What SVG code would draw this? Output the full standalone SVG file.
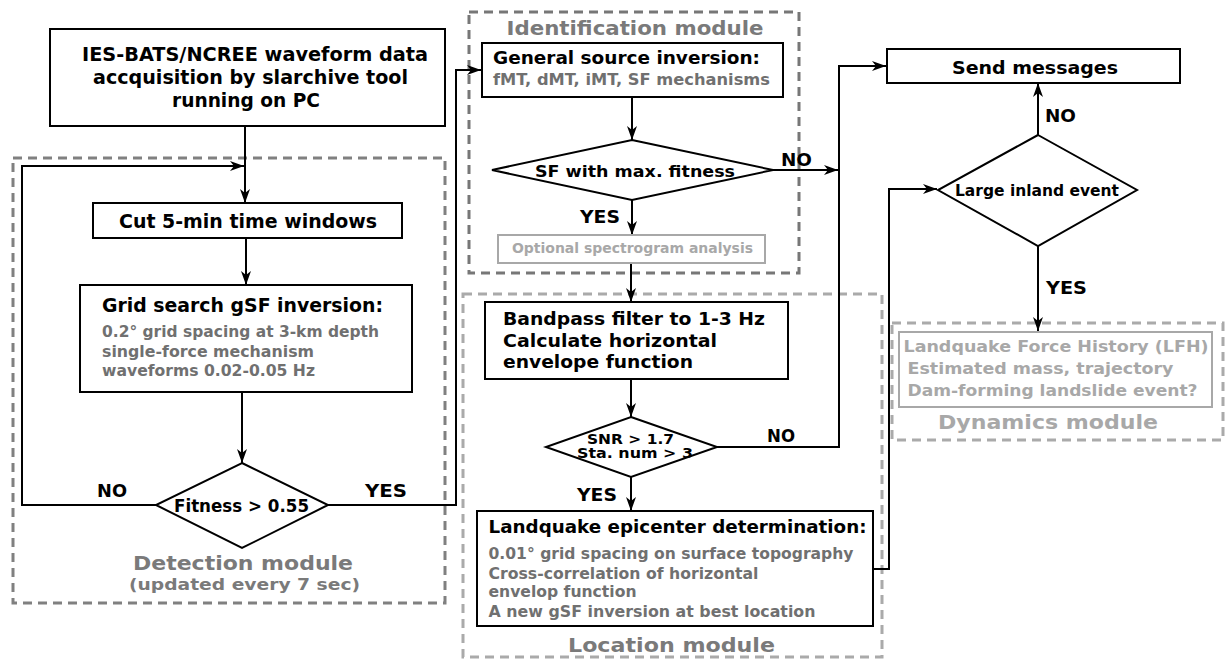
<svg xmlns="http://www.w3.org/2000/svg" width="1227" height="659" viewBox="0 0 1227 659">
<style>
text{font-family:"DejaVu Sans","Liberation Sans",sans-serif;font-weight:bold;}
.b{fill:#000;}
.g{fill:#707070;}
.lg{fill:#a8a8a8;}
.m{fill:#7a7a7a;}
.box{fill:#fff;stroke:#000;stroke-width:2;}
.lbox{fill:#fff;stroke:#a8a8a8;stroke-width:2;}
.dia{fill:#fff;stroke:#000;stroke-width:2;}
.dash{fill:none;stroke-width:3;stroke-dasharray:9 6;}
.c{fill:none;stroke:#000;stroke-width:2;}
</style>
<defs>
<marker id="ah" markerUnits="userSpaceOnUse" markerWidth="14" markerHeight="10" refX="14" refY="5" orient="auto">
<path d="M0,0 L14,5 L0,10 L4,5 Z" fill="#000"/>
</marker>
</defs>

<g id="modules">
<rect id="detection-module" class="dash" x="13" y="158" width="432" height="445" stroke="#808080"/>
<rect id="identification-module" class="dash" x="469" y="12" width="330" height="261" stroke="#777"/>
<rect id="location-module" class="dash" x="463" y="294" width="419" height="363" stroke="#aaa"/>
<rect id="dynamics-module" class="dash" x="892" y="323" width="331" height="117" stroke="#aaa"/>
<text class="m" x="243" y="570" font-size="19" text-anchor="middle" textLength="220" lengthAdjust="spacingAndGlyphs">Detection module</text>
<text class="m" x="244.5" y="590" font-size="16" text-anchor="middle" textLength="231" lengthAdjust="spacingAndGlyphs">(updated every 7 sec)</text>
<text class="m" x="635" y="35" font-size="19" text-anchor="middle" textLength="257" lengthAdjust="spacingAndGlyphs">Identification module</text>
<text class="m" x="671.5" y="652" font-size="20" text-anchor="middle" textLength="207" lengthAdjust="spacingAndGlyphs">Location module</text>
<text class="lg" x="1048" y="429" font-size="20" text-anchor="middle" textLength="220" lengthAdjust="spacingAndGlyphs">Dynamics module</text>
</g>

<g id="connectors">
<path class="c" d="M245,126 V203" marker-end="url(#ah)"/>
<path class="c" d="M156,505 H22 V166 H244" marker-end="url(#ah)"/>
<path class="c" d="M246,238 V285" marker-end="url(#ah)"/>
<path class="c" d="M242,392 V463" marker-end="url(#ah)"/>
<path class="c" d="M328,505 H456 V70 H481" marker-end="url(#ah)"/>
<path class="c" d="M632,97 V140" marker-end="url(#ah)"/>
<path class="c" d="M773,170 H838" marker-end="url(#ah)"/>
<path class="c" d="M632,200 V235" marker-end="url(#ah)"/>
<path class="c" d="M631,263 V302" marker-end="url(#ah)"/>
<path class="c" d="M631,379 V417" marker-end="url(#ah)"/>
<path class="c" d="M717,447 H839 V66 H886" marker-end="url(#ah)"/>
<path class="c" d="M631,477 V511" marker-end="url(#ah)"/>
<path class="c" d="M873,569 H889 V189 H937" marker-end="url(#ah)"/>
<path class="c" d="M1038,135 V83" marker-end="url(#ah)"/>
<path class="c" d="M1038,246 V331" marker-end="url(#ah)"/>
<text class="b" x="97" y="497" font-size="18" textLength="30" lengthAdjust="spacingAndGlyphs">NO</text>
<text class="b" x="365" y="497" font-size="18" textLength="42" lengthAdjust="spacingAndGlyphs">YES</text>
<text class="b" x="781" y="166" font-size="18" textLength="31" lengthAdjust="spacingAndGlyphs">NO</text>
<text class="b" x="580" y="223" font-size="18" textLength="40" lengthAdjust="spacingAndGlyphs">YES</text>
<text class="b" x="767" y="442" font-size="18" textLength="28" lengthAdjust="spacingAndGlyphs">NO</text>
<text class="b" x="577" y="501" font-size="18" textLength="40" lengthAdjust="spacingAndGlyphs">YES</text>
<text class="b" x="1045" y="122" font-size="18" textLength="31" lengthAdjust="spacingAndGlyphs">NO</text>
<text class="b" x="1046" y="294" font-size="18" textLength="41" lengthAdjust="spacingAndGlyphs">YES</text>
</g>

<g id="acquisition">
<rect class="box" x="50" y="29" width="395" height="97"/>
<text class="b" x="82" y="61" font-size="19" textLength="346" lengthAdjust="spacingAndGlyphs">IES-BATS/NCREE waveform data</text>
<text class="b" x="93" y="83.5" font-size="19" textLength="315" lengthAdjust="spacingAndGlyphs">accquisition by slarchive tool</text>
<text class="b" x="172" y="107" font-size="19" textLength="148" lengthAdjust="spacingAndGlyphs">running on PC</text>
</g>

<g id="cut-windows">
<rect class="box" x="93" y="203" width="309" height="35"/>
<text class="b" x="119" y="228" font-size="19" textLength="258" lengthAdjust="spacingAndGlyphs">Cut 5-min time windows</text>
</g>

<g id="grid-search">
<rect class="box" x="80" y="285" width="332" height="107"/>
<text class="b" x="102" y="311.5" font-size="19" textLength="281" lengthAdjust="spacingAndGlyphs">Grid search gSF inversion:</text>
<text class="g" x="102" y="337" font-size="15" textLength="277" lengthAdjust="spacingAndGlyphs">0.2° grid spacing at 3-km depth</text>
<text class="g" x="102" y="357" font-size="15" textLength="212" lengthAdjust="spacingAndGlyphs">single-force mechanism</text>
<text class="g" x="102" y="376" font-size="15" textLength="213" lengthAdjust="spacingAndGlyphs">waveforms 0.02-0.05 Hz</text>
</g>

<g id="fitness">
<polygon class="dia" points="242,463 328,505 242,548 156,505"/>
<text class="b" x="174" y="511.5" font-size="17" textLength="135" lengthAdjust="spacingAndGlyphs">Fitness &gt; 0.55</text>
</g>

<g id="general-source">
<rect class="box" x="482" y="43" width="301" height="54"/>
<text class="b" x="493" y="63.5" font-size="17.5" textLength="267" lengthAdjust="spacingAndGlyphs">General source inversion:</text>
<text class="g" x="493" y="85" font-size="15" textLength="277" lengthAdjust="spacingAndGlyphs">fMT, dMT, iMT, SF mechanisms</text>
</g>

<g id="sf-fitness">
<polygon class="dia" points="632,140 773,170 632,200 492,170"/>
<text class="b" x="535" y="176.5" font-size="16" textLength="200" lengthAdjust="spacingAndGlyphs">SF with max. fitness</text>
</g>

<g id="spectrogram">
<rect class="lbox" x="498" y="235" width="267" height="28"/>
<text class="lg" x="512" y="252.5" font-size="14" textLength="241" lengthAdjust="spacingAndGlyphs">Optional spectrogram analysis</text>
</g>

<g id="bandpass">
<rect class="box" x="485" y="302" width="303" height="77"/>
<text class="b" x="503" y="325" font-size="18" textLength="262" lengthAdjust="spacingAndGlyphs">Bandpass filter to 1-3 Hz</text>
<text class="b" x="503" y="347" font-size="18" textLength="214" lengthAdjust="spacingAndGlyphs">Calculate horizontal</text>
<text class="b" x="503" y="368" font-size="18" textLength="190" lengthAdjust="spacingAndGlyphs">envelope function</text>
</g>

<g id="snr">
<polygon class="dia" points="631,417 717,447 631,477 546,447"/>
<text class="b" x="587" y="444" font-size="13.5" textLength="87" lengthAdjust="spacingAndGlyphs">SNR &gt; 1.7</text>
<text class="b" x="577" y="458" font-size="13.5" textLength="116" lengthAdjust="spacingAndGlyphs">Sta. num &gt; 3</text>
</g>

<g id="landquake-epicenter">
<rect class="box" x="477" y="511" width="396" height="115"/>
<text class="b" x="488.5" y="533" font-size="17" textLength="378" lengthAdjust="spacingAndGlyphs">Landquake epicenter determination:</text>
<text class="g" x="488.5" y="558.5" font-size="15" textLength="365" lengthAdjust="spacingAndGlyphs">0.01° grid spacing on surface topography</text>
<text class="g" x="488.5" y="578.5" font-size="15" textLength="270" lengthAdjust="spacingAndGlyphs">Cross-correlation of horizontal</text>
<text class="g" x="488.5" y="597" font-size="15" textLength="148" lengthAdjust="spacingAndGlyphs">envelop function</text>
<text class="g" x="488.5" y="617" font-size="15" textLength="327" lengthAdjust="spacingAndGlyphs">A new gSF inversion at best location</text>
</g>

<g id="send-messages">
<rect class="box" x="887" y="49" width="293" height="34"/>
<text class="b" x="952" y="73.5" font-size="18" textLength="166" lengthAdjust="spacingAndGlyphs">Send messages</text>
</g>

<g id="large-inland">
<polygon class="dia" points="1038,135 1137,190 1038,246 938,190"/>
<text class="b" x="955" y="196" font-size="15" textLength="164" lengthAdjust="spacingAndGlyphs">Large inland event</text>
</g>

<g id="force-history">
<rect class="lbox" x="899" y="332" width="313" height="75"/>
<text class="lg" x="903.5" y="352" font-size="16" textLength="305" lengthAdjust="spacingAndGlyphs">Landquake Force History (LFH)</text>
<text class="lg" x="907.5" y="374" font-size="16" textLength="266" lengthAdjust="spacingAndGlyphs">Estimated mass, trajectory</text>
<text class="lg" x="907.5" y="396" font-size="16" textLength="290" lengthAdjust="spacingAndGlyphs">Dam-forming landslide event?</text>
</g>
</svg>
